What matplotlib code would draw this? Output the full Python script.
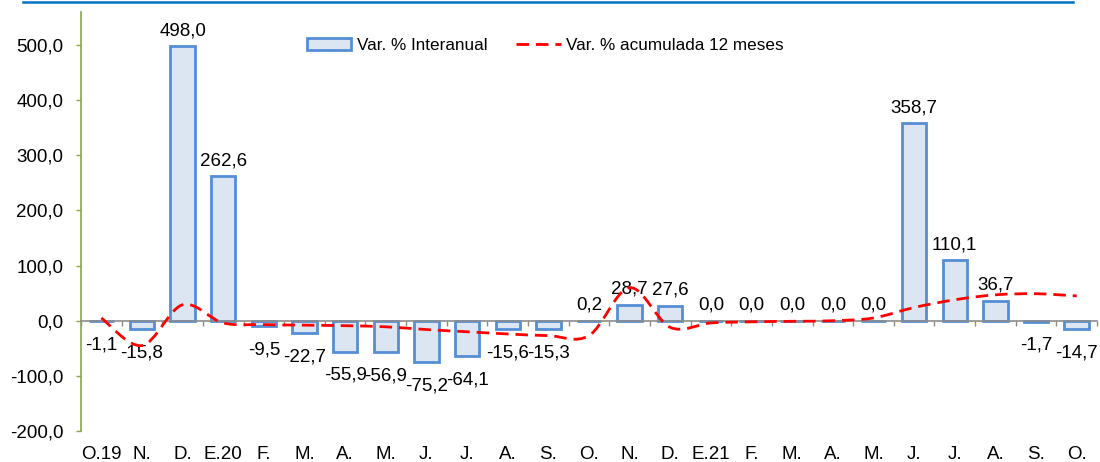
import matplotlib.pyplot as plt
import numpy as np
from matplotlib.path import Path
from matplotlib.patches import PathPatch, Patch
from matplotlib.lines import Line2D

plt.rcParams['font.family'] = ['Liberation Sans', 'DejaVu Sans']

months = ['O.19', 'N.', 'D.', 'E.20', 'F.', 'M.', 'A.', 'M.', 'J.', 'J.', 'A.', 'S.',
          'O.', 'N.', 'D.', 'E.21', 'F.', 'M.', 'A.', 'M.', 'J.', 'J.', 'A.', 'S.', 'O.']
interanual = [-1.1, -15.8, 498.0, 262.6, -9.5, -22.7, -55.9, -56.9, -75.2, -64.1, -15.6, -15.3,
              0.2, 28.7, 27.6, 0.0, 0.0, 0.0, 0.0, 0.0, 358.7, 110.1, 36.7, -1.7, -14.7]
acumulada = [5, -45, 29, -4, -7, -8, -9, -11, -16, -20, -24, -27,
             -27, 60, -12, -4, -2, -1, 0, 5, 24, 38, 47, 49, 45]

fmt = lambda v: f'{v:.1f}'.replace('.', ',')

fig = plt.figure(figsize=(11, 4.62), dpi=100)
ax = fig.add_axes([81/1100, 1 - 431/462, (1097 - 81)/1100, (431 - 12)/462])

ax.spines[['top', 'right']].set_visible(False)
ax.spines['bottom'].set_position(('data', 0))
ax.spines['bottom'].set_color('#8C8C8C')
ax.spines['bottom'].set_linewidth(1.2)
ax.spines['left'].set_color('#86A94A')
ax.spines['left'].set_linewidth(1.2)

x = np.arange(len(months))
bars = ax.bar(x, interanual, 0.6, color='#DCE6F2', edgecolor='#558ED5', linewidth=2, zorder=2)

for b, v in zip(bars, interanual):
    if v >= 0:
        ax.annotate(fmt(v), (b.get_x() + b.get_width()/2, v), xytext=(0, 5),
                    textcoords='offset points', ha='center', va='bottom', fontsize=13.5)
    else:
        ax.annotate(fmt(v), (b.get_x() + b.get_width()/2, v), xytext=(0, -11),
                    textcoords='offset points', ha='center', va='top', fontsize=13.5)

# smoothed line (Catmull-Rom as bezier segments, like Excel smoothing)
pts = np.column_stack([x, acumulada]).astype(float)
verts = [pts[0]]
codes = [Path.MOVETO]
n = len(pts)
for i in range(n - 1):
    p0 = pts[max(i - 1, 0)]
    p1 = pts[i]
    p2 = pts[i + 1]
    p3 = pts[min(i + 2, n - 1)]
    verts += [p1 + (p2 - p0)/6, p2 - (p3 - p1)/6, p2]
    codes += [Path.CURVE4] * 3
ax.add_patch(PathPatch(Path(verts, codes), fill=False, edgecolor='#FF0000',
                       linewidth=2, linestyle=(0, (4.5, 2.5)), zorder=3))

ax.set_xlim(-0.5, len(months) - 0.5)
ax.set_ylim(-200, 560)
ax.set_yticks(np.arange(-200, 501, 100))
ax.set_yticklabels([fmt(v) for v in np.arange(-200, 501, 100)])
ax.set_xticks(x)
ax.set_xticklabels(months)
ax.set_xticks(np.arange(-0.5, len(months)), minor=True)
ax.tick_params(axis='x', which='major', length=0, pad=90, labelsize=13.5)
ax.tick_params(axis='x', which='minor', length=3.6, color='#8C8C8C', width=1)
ax.tick_params(axis='y', length=3.6, color='#86A94A', width=1, pad=9, labelsize=13.5)

handles = [Patch(facecolor='#DCE6F2', edgecolor='#558ED5', linewidth=2),
           Line2D([], [], color='#FF0000', linewidth=2, linestyle=(0, (4.5, 2.5)))]
fig.legend(handles, ['Var. % Interanual', 'Var. % acumulada 12 meses'], ncol=2,
           loc='upper left', bbox_to_anchor=(307/1100, 1 - 38/462), frameon=False,
           fontsize=12.3, handlelength=2.6, handletextpad=0.3, columnspacing=1.7,
           borderpad=0, borderaxespad=0)

fig.add_artist(Line2D([23/1100, 1073/1100], [1 - 2/462, 1 - 2/462], color='#0070C0',
                      linewidth=1.8))

fig.savefig('out.png', dpi=100)
